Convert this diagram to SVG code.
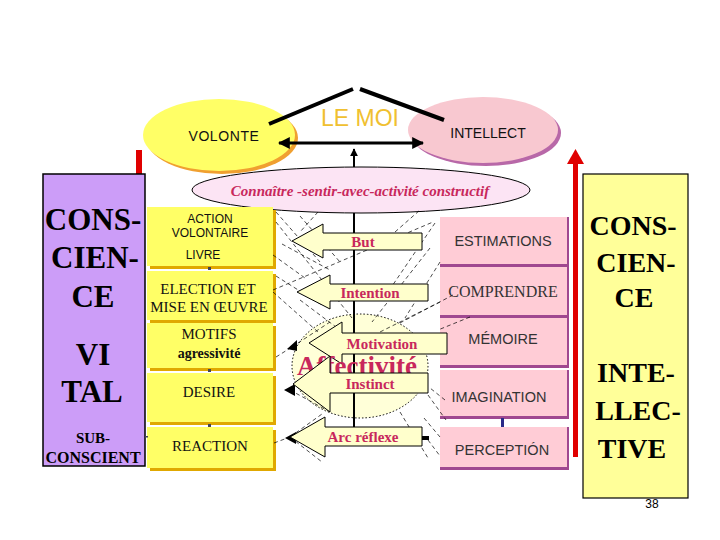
<svg xmlns="http://www.w3.org/2000/svg" width="720" height="540" viewBox="0 0 720 540">
<defs>
<style>
.sans{font-family:"Liberation Sans",Arial,sans-serif}
.serif{font-family:"Liberation Serif","Times New Roman",serif}
.big{font-family:"Liberation Serif","Times New Roman",serif;font-weight:bold;fill:#000;text-anchor:middle}
.yb{fill:#FFFF66}
.ysh{fill:#E0A800}
.pb{fill:#FFCCD6}
.psh{fill:#A04890}
.arr{fill:#FFFFCC;stroke:#000;stroke-width:1}
.lab{font-family:"Liberation Serif","Times New Roman",serif;font-weight:bold;fill:#C8285C;font-size:15px;text-anchor:middle}
.d{stroke:#000;stroke-width:0.7;stroke-dasharray:4 3;fill:none}
.t{text-anchor:middle;fill:#111}
</style>
<marker id="ah" viewBox="0 0 10 10" refX="9" refY="5" markerWidth="4" markerHeight="4" orient="auto-start-reverse">
<path d="M0,0 L10,5 L0,10 z" fill="#000"/>
</marker>
</defs>
<rect width="720" height="540" fill="#fff"/>

<g id="volonte">
<ellipse cx="222" cy="138" rx="76" ry="36" fill="#F0A030"/>
<ellipse cx="219" cy="135" rx="76" ry="36" fill="#FFFF66"/>
<text x="224" y="141" class="sans t" font-size="14" letter-spacing="0.6">VOLONTE</text>
</g>
<g id="intellect">
<ellipse cx="486" cy="133" rx="75" ry="33" fill="#B868A8"/>
<ellipse cx="483" cy="130" rx="75" ry="33" fill="#F8C8D0"/>
<text x="488" y="138" class="sans t" font-size="14">INTELLECT</text>
</g>
<g id="lemoi">
<text x="360" y="126" class="sans" font-size="23" fill="#F0C030" text-anchor="middle">LE MOI</text>
</g>

<g id="connectors">
<line x1="269" y1="124" x2="353" y2="89" stroke="#000" stroke-width="4"/>
<line x1="360" y1="89" x2="444" y2="120" stroke="#000" stroke-width="4"/>
<line x1="279" y1="143" x2="423" y2="143" stroke="#000" stroke-width="3" marker-start="url(#ah)" marker-end="url(#ah)"/>
<line x1="354" y1="167" x2="354" y2="149" stroke="#000" stroke-width="2" marker-end="url(#ah)"/>
<rect x="136" y="150" width="6" height="24" fill="#E00000"/>
<rect x="573" y="163" width="5" height="294" fill="#E00000"/>
<polygon points="567,164 584,164 575.5,149" fill="#E00000"/>
</g>

<g id="connaitre">
<ellipse cx="361" cy="190" rx="169" ry="23" fill="#FCE4F4" stroke="#000" stroke-width="1"/>
<text x="360" y="196" class="serif" font-size="15" font-style="italic" font-weight="bold" fill="#C8285C" text-anchor="middle">Connaître -sentir-avec-activité constructif</text>
</g>

<g id="conscience-vital">
<rect x="43" y="174" width="102" height="292" fill="#CC9DF8" stroke="#000" stroke-width="1.5"/>
<text x="93" y="230" class="big" font-size="31">CONS-</text>
<text x="95" y="268" class="big" font-size="31">CIEN-</text>
<text x="93" y="307" class="big" font-size="31">CE</text>
<text x="93" y="365" class="big" font-size="31">VI</text>
<text x="92" y="402" class="big" font-size="31">TAL</text>
<text x="93" y="443" class="big" font-size="15">SUB-</text>
<text x="93" y="463" class="big" font-size="16">CONSCIENT</text>
</g>

<g id="conscience-intellective">
<rect x="583" y="174" width="105" height="324" fill="#FFFF99" stroke="#000" stroke-width="1.2"/>
<text x="633" y="235" class="big" font-size="28">CONS-</text>
<text x="636" y="272" class="big" font-size="28">CIEN-</text>
<text x="634" y="307" class="big" font-size="28">CE</text>
<text x="636" y="382" class="big" font-size="28">INTE-</text>
<text x="638" y="420" class="big" font-size="28">LLEC-</text>
<text x="632" y="458" class="big" font-size="28">TIVE</text>
</g>
<text x="652" y="508" class="sans" font-size="12" text-anchor="middle">38</text>

<g id="action">
<rect x="150" y="210" width="126" height="59" class="ysh"/>
<rect x="147" y="207" width="126" height="59" class="yb"/>
<text x="210" y="223" class="sans t" font-size="12">ACTION</text>
<text x="210" y="237" class="sans t" font-size="12">VOLONTAIRE</text>
<text x="203" y="259" class="sans t" font-size="12">LIVRE</text>
</g>
<g id="election">
<rect x="150" y="274" width="126" height="49" class="ysh"/>
<rect x="147" y="271" width="126" height="49" class="yb"/>
<text x="208" y="294" class="serif t" font-size="15">ELECTION  ET</text>
<text x="209" y="312" class="serif t" font-size="15">MISE EN ŒUVRE</text>
</g>
<g id="motifs">
<rect x="150" y="326" width="126" height="45" class="ysh"/>
<rect x="147" y="323" width="126" height="45" class="yb"/>
<text x="209" y="339" class="serif t" font-size="15">MOTIFS</text>
<text x="209" y="358" class="serif t" font-size="14" font-weight="bold">agressivité</text>
</g>
<g id="desire">
<rect x="150" y="376" width="126" height="49" class="ysh"/>
<rect x="147" y="373" width="126" height="49" class="yb"/>
<text x="209" y="397" class="serif t" font-size="15">DESIRE</text>
</g>
<g id="reaction">
<rect x="150" y="430" width="126" height="41" class="ysh"/>
<rect x="147" y="427" width="126" height="41" class="yb"/>
<text x="210" y="451" class="serif t" font-size="15">REACTION</text>
</g>
<g id="left-links" fill="#445">
<rect x="208" y="267" width="3" height="3"/>
<rect x="208" y="369" width="3" height="3"/>
<rect x="208" y="424" width="3" height="3"/>
<rect x="145" y="436" width="3" height="1.5"/>
</g>

<g id="estimations">
<rect x="440" y="217" width="129" height="50" class="psh"/>
<rect x="440" y="217" width="127" height="47" class="pb"/>
<text x="503" y="246" class="sans" font-size="14.5" fill="#333" text-anchor="middle">ESTIMATIONS</text>
</g>
<g id="comprendre">
<rect x="440" y="267" width="129" height="51" class="psh"/>
<rect x="440" y="267" width="127" height="48" class="pb"/>
<text x="503" y="297" class="serif" font-size="16" fill="#333" text-anchor="middle">COMPRENDRE</text>
</g>
<g id="memoire">
<rect x="440" y="318" width="129" height="50" class="psh"/>
<rect x="440" y="318" width="127" height="47" class="pb"/>
<text x="503" y="344" class="sans" font-size="14.5" fill="#333" text-anchor="middle">MÉMOIRE</text>
</g>
<g id="imagination">
<rect x="440" y="370" width="129" height="49" class="psh"/>
<rect x="440" y="370" width="127" height="46" class="pb"/>
<text x="499" y="402" class="sans" font-size="14.5" fill="#333" text-anchor="middle">IMAGINATION</text>
</g>
<g id="perception">
<rect x="440" y="427" width="129" height="43" class="psh"/>
<rect x="440" y="427" width="127" height="40" class="pb"/>
<text x="502" y="455" class="sans" font-size="14.5" fill="#333" text-anchor="middle">PERCEPTIÓN</text>
</g>
<rect x="501" y="418" width="3" height="9" fill="#2A2A88"/>

<g id="affectivite-circle">
<ellipse cx="360" cy="366" rx="68" ry="52" fill="#FFFFD8" stroke="#000" stroke-width="1" stroke-dasharray="1.5 2"/>
</g>

<g id="dashed-lines">
<path class="d" d="M276,212 L320,262 M276,222 L352,318 M300,216 L340,262 M273,255 L305,278 M282,244 L330,270 M273,290 L433,222 M273,292 L318,332 M276,276 L322,305 M435,223 L388,292 M440,262 L405,318 M430,248 L372,322 M453,295 L398,324 M440,302 L380,332 M470,317 L438,330 M276,357 L292,347 M292,347 L330,322 M290,390 L322,365 M290,390 L330,412 M274,443 L290,437 M290,437 L322,414 M290,437 L322,462 M445,400 L430,388 M428,395 L446,420 M428,440 L440,456 M424,418 L440,437 M400,412 L428,458 M300,300 L340,330 M395,232 L420,210 M318,212 L300,232"/>
</g>
<g id="dash-heads" fill="#000">
<polygon points="287,349 297,340 297,351"/>
<polygon points="284,390 295,384 295,396"/>
<polygon points="285,438 296,432 296,444"/>
<rect x="422" y="436" width="7" height="4"/>
</g>

<line x1="354" y1="213" x2="354" y2="444" stroke="#000" stroke-width="2" marker-end="url(#ah)"/>

<g id="but">
<polygon class="arr" points="292,241 323,224 323,233 422,233 422,250 323,250 323,258"/>
<text x="363" y="247" class="lab">But</text>
</g>
<g id="intention">
<polygon class="arr" points="297,292 330,275 330,284 428,284 428,301 330,301 330,309"/>
<text x="370" y="298" class="lab">Intention</text>
</g>
<g id="motivation">
<polygon class="arr" points="309,343 342,322 342,333 447,333 447,354 342,354 342,364"/>
<text x="382" y="349" class="lab">Motivation</text>
</g>
<g id="affectivite">
<text x="357" y="375" class="serif" font-size="27" font-weight="bold" fill="#C8285C" text-anchor="middle">Affectivité</text>
</g>
<g id="instinct">
<polygon class="arr" points="293,384 330,356 330,373 428,373 428,393 330,393 330,412"/>
<text x="370" y="389" class="lab">Instinct</text>
</g>
<g id="arc-reflexe">
<polygon class="arr" points="290,437 325,417 325,427 422,427 422,446 325,446 325,457"/>
<text x="363" y="442" class="lab">Arc réflexe</text>
</g>
</svg>
